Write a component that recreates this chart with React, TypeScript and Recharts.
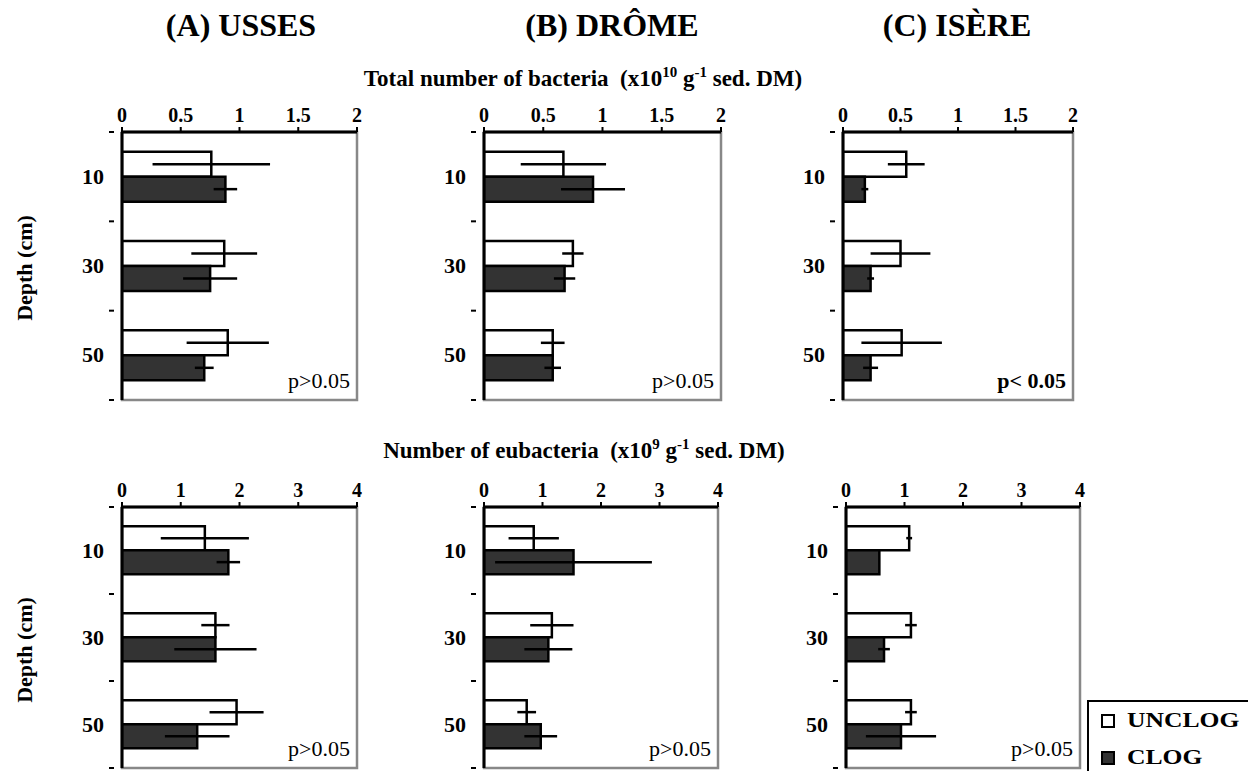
import React from 'react';
import { BarChart, Bar, XAxis, YAxis, ErrorBar, ReferenceArea } from 'recharts';

const FONT = '"Liberation Serif", "Times New Roman", serif';

// categories
const depths = ['10', '30', '50'];
const sites = ['(A) USSES', '(B) DRÔME', '(C) ISÈRE'];
const seriesNames = ['UNCLOG', 'CLOG'];

// total bacteria (x10^10 g-1 sed. DM)
const totTicks = [0, 0.5, 1, 1.5, 2];
const totUssesUnclog = [0.76, 0.87, 0.9];
const totUssesUnclogErr = [0.5, 0.28, 0.35];
const totUssesClog = [0.88, 0.75, 0.7];
const totUssesClogErr = [0.1, 0.23, 0.08];
const totDromeUnclog = [0.67, 0.75, 0.58];
const totDromeUnclogErr = [0.36, 0.09, 0.1];
const totDromeClog = [0.92, 0.68, 0.58];
const totDromeClogErr = [0.27, 0.09, 0.07];
const totIsereUnclog = [0.55, 0.5, 0.51];
const totIsereUnclogErr = [0.16, 0.26, 0.35];
const totIsereClog = [0.19, 0.24, 0.24];
const totIsereClogErr = [0.03, 0.03, 0.065];

// eubacteria (x10^9 g-1 sed. DM)
const eubTicks = [0, 1, 2, 3, 4];
const eubUssesUnclog = [1.41, 1.59, 1.95];
const eubUssesUnclogErr = [0.75, 0.24, 0.46];
const eubUssesClog = [1.81, 1.59, 1.28];
const eubUssesClogErr = [0.2, 0.7, 0.55];
const eubDromeUnclog = [0.85, 1.16, 0.73];
const eubDromeUnclogErr = [0.43, 0.37, 0.16];
const eubDromeClog = [1.53, 1.1, 0.97];
const eubDromeClogErr = [1.34, 0.41, 0.28];
const eubIsereUnclog = [1.08, 1.11, 1.11];
const eubIsereUnclogErr = [0.05, 0.1, 0.1];
const eubIsereClog = [0.57, 0.65, 0.94];
const eubIsereClogErr = [0, 0.1, 0.6];

const pTexts = ['p>0.05', 'p>0.05', 'p< 0.05', 'p>0.05', 'p>0.05', 'p>0.05'];

function rows(unc: number[], uncErr: number[], clog: number[], clogErr: number[]) {
  return depths.map((d, i) => ({
    depth: d,
    unclog: unc[i],
    unclogErr: uncErr[i],
    clog: clog[i],
    clogErr: clogErr[i],
  }));
}

const Y_W = 48;
const X_H = 40;

function DepthTick(props: any) {
  const { x, y, payload, index, band } = props;
  return (
    <g>
      <text
        x={x - 10}
        y={y}
        dy={7}
        textAnchor="end"
        fontFamily={FONT}
        fontWeight="bold"
        fontSize={22}
        fill="#000"
      >
        {payload.value}
      </text>
      <line x1={x - 5} x2={x} y1={y + band / 2} y2={y + band / 2} stroke="#000" strokeWidth={2} />
      {index === 0 && (
        <line x1={x - 5} x2={x} y1={y - band / 2} y2={y - band / 2} stroke="#000" strokeWidth={2} />
      )}
    </g>
  );
}

interface PanelProps {
  data: ReturnType<typeof rows>;
  ticks: number[];
  left: number;
  top: number;
  w: number;
  h: number;
  p: string;
  pBold?: boolean;
}

function Panel({ data, ticks, left, top, w, h, p, pBold }: PanelProps) {
  const max = ticks[ticks.length - 1];
  const R = 14;
  const B = 4;
  return (
    <div style={{ position: 'absolute', left: left - Y_W, top: top - X_H }}>
      <BarChart
        width={Y_W + w + R}
        height={X_H + h + B}
        data={data}
        layout="vertical"
        margin={{ top: 0, right: R, bottom: B, left: 0 }}
        barGap={0}
        barCategoryGap="22%"
      >
        <ReferenceArea x1={0} x2={max} fill="none" stroke="#888" strokeWidth={2.5} />
        <XAxis
          type="number"
          orientation="top"
          domain={[0, max]}
          ticks={ticks}
          height={X_H}
          allowDataOverflow
          axisLine={{ stroke: '#000', strokeWidth: 3 }}
          tickLine={{ stroke: '#000', strokeWidth: 2 }}
          tickSize={5}
          tickMargin={5}
          tick={{ fill: '#000', fontSize: 20, fontWeight: 'bold', fontFamily: FONT }}
        />
        <YAxis
          type="category"
          dataKey="depth"
          width={Y_W}
          axisLine={{ stroke: '#000', strokeWidth: 3 }}
          tickLine={false}
          tick={(tp: any) => <DepthTick {...tp} band={h / 3} />}
        />
        <Bar dataKey="unclog" name={seriesNames[0]} fill="#fff" stroke="#000" strokeWidth={2.5} isAnimationActive={false}>
          <ErrorBar dataKey="unclogErr" direction="x" width={0} stroke="#000" strokeWidth={2.5} />
        </Bar>
        <Bar dataKey="clog" name={seriesNames[1]} fill="#333" stroke="#000" strokeWidth={2.5} isAnimationActive={false}>
          <ErrorBar dataKey="clogErr" direction="x" width={0} stroke="#000" strokeWidth={2.5} />
        </Bar>
      </BarChart>
      <div
        style={{
          position: 'absolute',
          left: Y_W,
          width: w - 7,
          top: X_H + h - 32,
          textAlign: 'right',
          fontFamily: FONT,
          fontSize: 22,
          fontWeight: pBold ? 'bold' : 'normal',
          lineHeight: '26px',
        }}
      >
        {p}
      </div>
    </div>
  );
}

const textBase: React.CSSProperties = {
  position: 'absolute',
  fontFamily: FONT,
  fontWeight: 'bold',
  color: '#000',
  whiteSpace: 'nowrap',
};

const supStyle: React.CSSProperties = { fontSize: 15, verticalAlign: 'super', lineHeight: 0 };

export default function App() {
  const headerX = [241, 612, 957];
  return (
    <div style={{ position: 'absolute', left: 0, top: 0, width: 1248, height: 771, background: '#fff', overflow: 'hidden' }}>
      {sites.map((s, i) => (
        <div key={s} style={{ ...textBase, left: headerX[i], top: 7, fontSize: 32, transform: 'translateX(-50%)' }}>
          {s}
        </div>
      ))}
      <div style={{ ...textBase, left: 583, top: 66, fontSize: 23, transform: 'translateX(-50%)' }}>
        Total number of bacteria&nbsp; (x10<span style={supStyle}>10</span> g<span style={supStyle}>-1</span> sed. DM)
      </div>
      <div style={{ ...textBase, left: 584, top: 438, fontSize: 23, transform: 'translateX(-50%)' }}>
        Number of eubacteria&nbsp; (x10<span style={supStyle}>9</span> g<span style={supStyle}>-1</span> sed. DM)
      </div>
      {[268, 650].map((cy) => (
        <div
          key={cy}
          style={{ ...textBase, left: 25, top: cy, fontSize: 22, transform: 'translate(-50%, -50%) rotate(-90deg)' }}
        >
          Depth (cm)
        </div>
      ))}

      <Panel data={rows(totUssesUnclog, totUssesUnclogErr, totUssesClog, totUssesClogErr)} ticks={totTicks} left={122} top={132} w={235} h={268} p={pTexts[0]} />
      <Panel data={rows(totDromeUnclog, totDromeUnclogErr, totDromeClog, totDromeClogErr)} ticks={totTicks} left={484} top={132} w={237} h={268} p={pTexts[1]} />
      <Panel data={rows(totIsereUnclog, totIsereUnclogErr, totIsereClog, totIsereClogErr)} ticks={totTicks} left={843} top={132} w={230} h={268} p={pTexts[2]} pBold />

      <Panel data={rows(eubUssesUnclog, eubUssesUnclogErr, eubUssesClog, eubUssesClogErr)} ticks={eubTicks} left={122} top={507} w={235} h={261} p={pTexts[3]} />
      <Panel data={rows(eubDromeUnclog, eubDromeUnclogErr, eubDromeClog, eubDromeClogErr)} ticks={eubTicks} left={484} top={507} w={234} h={261} p={pTexts[4]} />
      <Panel data={rows(eubIsereUnclog, eubIsereUnclogErr, eubIsereClog, eubIsereClogErr)} ticks={eubTicks} left={846} top={507} w={234} h={261} p={pTexts[5]} />

      <div
        style={{
          position: 'absolute',
          left: 1087,
          top: 700,
          width: 170,
          height: 90,
          border: '2px solid #000',
          background: '#fff',
        }}
      >
        {seriesNames.map((n, i) => (
          <div key={n} style={{ position: 'absolute', left: 12, top: 6 + i * 37, display: 'flex', alignItems: 'center' }}>
            <div
              style={{
                width: 10,
                height: 10,
                border: '2px solid #000',
                background: i === 0 ? '#fff' : '#333',
              }}
            />
            <span
              style={{
                ...textBase,
                position: 'static',
                fontSize: 21,
                marginLeft: 12,
                display: 'inline-block',
                transform: 'scaleX(1.22)',
                transformOrigin: 'left center',
              }}
            >
              {n}
            </span>
          </div>
        ))}
      </div>
    </div>
  );
}
